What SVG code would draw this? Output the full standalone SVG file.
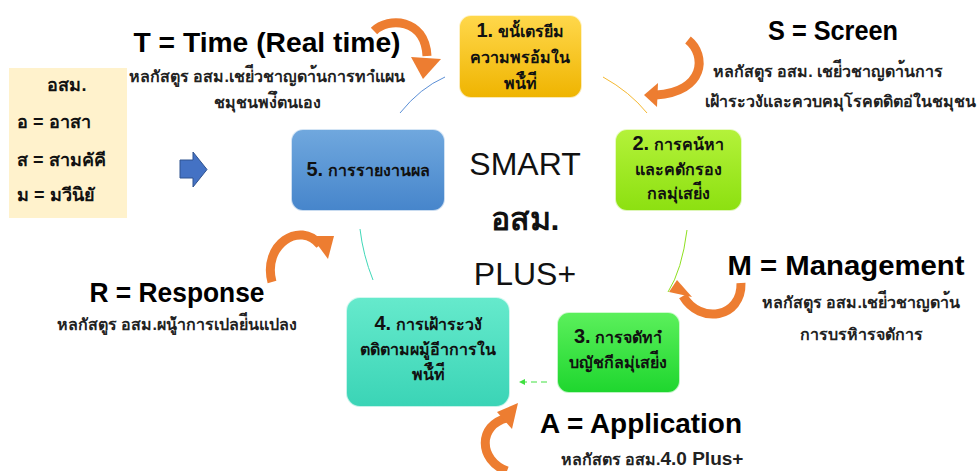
<svg xmlns="http://www.w3.org/2000/svg" width="978" height="471" viewBox="0 0 978 471">
<defs>
<linearGradient id="gY" x1="0" y1="0" x2="0" y2="1"><stop offset="0" stop-color="#FFD84C"/><stop offset="1" stop-color="#EFB400"/></linearGradient>
<linearGradient id="gL" x1="0" y1="0" x2="0" y2="1"><stop offset="0" stop-color="#B4F23A"/><stop offset="1" stop-color="#8CE010"/></linearGradient>
<linearGradient id="gG" x1="0" y1="0" x2="0" y2="1"><stop offset="0" stop-color="#5CF05C"/><stop offset="1" stop-color="#1ED62E"/></linearGradient>
<linearGradient id="gT" x1="0" y1="0" x2="0" y2="1"><stop offset="0" stop-color="#66EACC"/><stop offset="1" stop-color="#3AD4B6"/></linearGradient>
<linearGradient id="gB" x1="0" y1="0" x2="0" y2="1"><stop offset="0" stop-color="#70A8DE"/><stop offset="1" stop-color="#4685CB"/></linearGradient>
</defs>
<style>
.box{stroke:#FFFFFF;stroke-opacity:0.7;stroke-width:2}
.bt{font-family:"Liberation Sans",sans-serif;font-size:16px;font-weight:bold;fill:#111;text-anchor:middle}
.num{font-size:20px}
.ttl{font-family:"Liberation Sans",sans-serif;font-size:28px;font-weight:bold;fill:#000;text-anchor:middle}
.sub{font-family:"Liberation Sans",sans-serif;font-size:16px;font-weight:bold;fill:#222;text-anchor:middle}
.ctr{font-family:"Liberation Sans",sans-serif;font-size:32px;fill:#111;text-anchor:middle}
.leg{font-family:"Liberation Sans",sans-serif;font-size:18px;font-weight:bold;fill:#111}
.oa{fill:none;stroke:#ED7D31;stroke-width:9}
.oh{fill:#ED7D31}
.cn{fill:none;stroke-width:1}
</style>

<g id="legend">
<rect x="9" y="68" width="118" height="150" fill="#FFF2CC"/>
<text class="leg" x="67" y="91" text-anchor="middle">อสม.</text>
<text class="leg" x="17" y="128">อ = อาสา</text>
<text class="leg" x="17" y="166">ส = สามคัคี</text>
<text class="leg" x="17" y="201">ม = มวีนิยั</text>
</g>

<g id="blue-arrow">
<polygon points="180,160 193,160 193,152 207,169.5 193,187 193,178 180,178" fill="#4472C4" stroke="#2F528F" stroke-width="1"/>
</g>

<g id="connectors">
<path class="cn" d="M400,113 Q420,88 445,77" stroke="#5B8FD6"/>
<path class="cn" d="M603,77 Q630,92 647,113" stroke="#F5B830"/>
<path class="cn" d="M687,230 Q682,270 668,292" stroke="#8EE020"/>
<path class="cn" d="M547,382 L522,382" stroke="#40E040" stroke-dasharray="6,4"/>
<polygon points="519,382 525,379 525,385" fill="#40E040"/>
<path class="cn" d="M373,280 Q363,255 360,229" stroke="#40D8B8"/>
</g>

<g id="node1">
<rect class="box" x="459" y="15" width="123" height="83" rx="12" fill="url(#gY)"/>
<text class="bt" x="520" y="37"><tspan class="num">1.</tspan> ขนั้เตรยีม</text>
<text class="bt" x="520" y="63">ความพรอ้มใน</text>
<text class="bt" x="520" y="89">พน้ืท่ี</text>
</g>

<g id="node2">
<rect class="box" x="615" y="129" width="127" height="82" rx="12" fill="url(#gL)"/>
<text class="bt" x="678" y="150"><tspan class="num">2.</tspan> การคน้หา</text>
<text class="bt" x="678" y="175">และคดักรอง</text>
<text class="bt" x="678" y="199">กลมุ่เสย่ีง</text>
</g>

<g id="node3">
<rect class="box" x="557" y="312" width="123" height="81" rx="12" fill="url(#gG)"/>
<text class="bt" x="618" y="343"><tspan class="num">3.</tspan> การจดัทาํ</text>
<text class="bt" x="618" y="368">บญัชกีลมุ่เสย่ีง</text>
</g>

<g id="node4">
<rect class="box" x="346" y="297" width="164" height="110" rx="14" fill="url(#gT)"/>
<text class="bt" x="428" y="330"><tspan class="num">4.</tspan> การเฝ้าระวงั</text>
<text class="bt" x="428" y="355">ตดิตามผมู้อีาการใน</text>
<text class="bt" x="428" y="380">พน้ืท่ี</text>
</g>

<g id="node5">
<rect class="box" x="291" y="129" width="154" height="82" rx="12" fill="url(#gB)"/>
<text class="bt" x="368" y="176"><tspan class="num">5.</tspan> การรายงานผล</text>
</g>

<g id="center">
<text class="ctr" x="525" y="175">SMART</text>
<text class="ctr" x="525" y="230" font-weight="bold">อสม.</text>
<text class="ctr" x="525" y="285">PLUS+</text>
</g>

<g id="T">
<path class="oa" d="M374,31 C388,17 425,18 427,56"/>
<polygon class="oh" points="411,57 441,59 423,79"/>
<text class="ttl" x="267" y="52" textLength="267" lengthAdjust="spacingAndGlyphs">T = Time (Real time)</text>
<text class="sub" x="267" y="82">หลกัสตูร อสม.เชย่ีวชาญดา้นการทาํแผน</text>
<text class="sub" x="267" y="108">ชมุชนพง่ึตนเอง</text>
</g>

<g id="S">
<path class="oa" d="M688,40 C707,55 705,92 656,95"/>
<polygon class="oh" points="658,83 644,95 657,107"/>
<text class="ttl" x="833" y="40" textLength="130" lengthAdjust="spacingAndGlyphs">S = Screen</text>
<text class="sub" x="828" y="77">หลกัสตูร อสม. เชย่ีวชาญดา้นการ</text>
<text class="sub" x="840" y="107">เฝ้าระวงัและควบคมุโรคตดิตอ่ในชมุชน</text>
</g>

<g id="M">
<path class="oa" d="M741,283 C742,318 700,325 683,296"/>
<polygon class="oh" points="669,292 677,280 692,297"/>
<text class="ttl" x="846" y="275" textLength="237" lengthAdjust="spacingAndGlyphs">M = Management</text>
<text class="sub" x="861" y="308">หลกัสตูร อสม.เชย่ีวชาญดา้น</text>
<text class="sub" x="861" y="340">การบรหิารจดัการ</text>
</g>

<g id="R">
<path class="oa" d="M272,282 C262,245 300,220 320,245"/>
<polygon class="oh" points="311,236 334,236 328,259"/>
<text class="ttl" x="177" y="302" textLength="175" lengthAdjust="spacingAndGlyphs">R = Response</text>
<text class="sub" x="177" y="330">หลกัสตูร อสม.ผนู้ําการเปลย่ีนแปลง</text>
</g>

<g id="A">
<path class="oa" d="M507,471 C478,460 478,425 507,418"/>
<polygon class="oh" points="518,403 497,412 512,429"/>
<text class="ttl" x="641" y="433" textLength="202" lengthAdjust="spacingAndGlyphs">A = Application</text>
<text class="sub" x="652" y="465">หลกัสตร อสม.<tspan font-size="19px">4.0 Plus+</tspan></text>
</g>
</svg>
